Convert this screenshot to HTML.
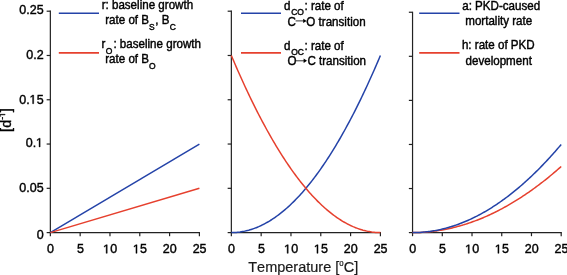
<!DOCTYPE html><html><head><meta charset="utf-8"><style>html,body{margin:0;padding:0;background:#fff;overflow:hidden;}svg{display:block;will-change:transform;}text{font-family:"Liberation Sans",sans-serif;font-kerning:none;fill:#000;stroke:#000;stroke-width:0.4px;}</style></head><body>
<svg width="567" height="275" viewBox="0 0 567 275">
<path d="M50.35 11.20 V232.60 H199.40" fill="none" stroke="#222" stroke-width="1.2" stroke-linecap="square"/>
<line x1="46.65" y1="232.60" x2="50.35" y2="232.60" stroke="#222" stroke-width="1.2"/>
<line x1="46.65" y1="188.32" x2="50.35" y2="188.32" stroke="#222" stroke-width="1.2"/>
<line x1="46.65" y1="144.04" x2="50.35" y2="144.04" stroke="#222" stroke-width="1.2"/>
<line x1="46.65" y1="99.76" x2="50.35" y2="99.76" stroke="#222" stroke-width="1.2"/>
<line x1="46.65" y1="55.48" x2="50.35" y2="55.48" stroke="#222" stroke-width="1.2"/>
<line x1="46.65" y1="11.20" x2="50.35" y2="11.20" stroke="#222" stroke-width="1.2"/>
<line x1="50.35" y1="232.60" x2="50.35" y2="236.20" stroke="#222" stroke-width="1.2"/>
<text x="47.07" y="253.30" font-size="12.5">0</text>
<line x1="80.16" y1="232.60" x2="80.16" y2="236.20" stroke="#222" stroke-width="1.2"/>
<text x="76.88" y="253.30" font-size="12.5">5</text>
<line x1="109.97" y1="232.60" x2="109.97" y2="236.20" stroke="#222" stroke-width="1.2"/>
<path transform="translate(103.22 253.30) scale(0.00610 -0.00610)" d="M475 0L475 1237L157 1010L157 1180L490 1409L656 1409L656 0Z" fill="#000" stroke="#000" stroke-width="65.5"/><text x="110.17" y="253.30" font-size="12.5">0</text>
<line x1="139.78" y1="232.60" x2="139.78" y2="236.20" stroke="#222" stroke-width="1.2"/>
<path transform="translate(133.03 253.30) scale(0.00610 -0.00610)" d="M475 0L475 1237L157 1010L157 1180L490 1409L656 1409L656 0Z" fill="#000" stroke="#000" stroke-width="65.5"/><text x="139.98" y="253.30" font-size="12.5">5</text>
<line x1="169.59" y1="232.60" x2="169.59" y2="236.20" stroke="#222" stroke-width="1.2"/>
<text x="162.84" y="253.30" font-size="12.5">20</text>
<line x1="199.40" y1="232.60" x2="199.40" y2="236.20" stroke="#222" stroke-width="1.2"/>
<text x="192.65" y="253.30" font-size="12.5">25</text>
<path d="M231.35 11.20 V232.60 H380.40" fill="none" stroke="#222" stroke-width="1.2" stroke-linecap="square"/>
<line x1="227.65" y1="232.60" x2="231.35" y2="232.60" stroke="#222" stroke-width="1.2"/>
<line x1="227.65" y1="188.32" x2="231.35" y2="188.32" stroke="#222" stroke-width="1.2"/>
<line x1="227.65" y1="144.04" x2="231.35" y2="144.04" stroke="#222" stroke-width="1.2"/>
<line x1="227.65" y1="99.76" x2="231.35" y2="99.76" stroke="#222" stroke-width="1.2"/>
<line x1="227.65" y1="55.48" x2="231.35" y2="55.48" stroke="#222" stroke-width="1.2"/>
<line x1="227.65" y1="11.20" x2="231.35" y2="11.20" stroke="#222" stroke-width="1.2"/>
<line x1="231.35" y1="232.60" x2="231.35" y2="236.20" stroke="#222" stroke-width="1.2"/>
<text x="228.07" y="253.30" font-size="12.5">0</text>
<line x1="261.16" y1="232.60" x2="261.16" y2="236.20" stroke="#222" stroke-width="1.2"/>
<text x="257.88" y="253.30" font-size="12.5">5</text>
<line x1="290.97" y1="232.60" x2="290.97" y2="236.20" stroke="#222" stroke-width="1.2"/>
<path transform="translate(284.22 253.30) scale(0.00610 -0.00610)" d="M475 0L475 1237L157 1010L157 1180L490 1409L656 1409L656 0Z" fill="#000" stroke="#000" stroke-width="65.5"/><text x="291.17" y="253.30" font-size="12.5">0</text>
<line x1="320.78" y1="232.60" x2="320.78" y2="236.20" stroke="#222" stroke-width="1.2"/>
<path transform="translate(314.03 253.30) scale(0.00610 -0.00610)" d="M475 0L475 1237L157 1010L157 1180L490 1409L656 1409L656 0Z" fill="#000" stroke="#000" stroke-width="65.5"/><text x="320.98" y="253.30" font-size="12.5">5</text>
<line x1="350.59" y1="232.60" x2="350.59" y2="236.20" stroke="#222" stroke-width="1.2"/>
<text x="343.84" y="253.30" font-size="12.5">20</text>
<line x1="380.40" y1="232.60" x2="380.40" y2="236.20" stroke="#222" stroke-width="1.2"/>
<text x="373.65" y="253.30" font-size="12.5">25</text>
<path d="M412.55 12.25 V232.60 H561.20" fill="none" stroke="#222" stroke-width="1.2" stroke-linecap="square"/>
<line x1="408.85" y1="232.60" x2="412.55" y2="232.60" stroke="#222" stroke-width="1.2"/>
<line x1="408.85" y1="188.53" x2="412.55" y2="188.53" stroke="#222" stroke-width="1.2"/>
<line x1="408.85" y1="144.46" x2="412.55" y2="144.46" stroke="#222" stroke-width="1.2"/>
<line x1="408.85" y1="100.39" x2="412.55" y2="100.39" stroke="#222" stroke-width="1.2"/>
<line x1="408.85" y1="56.32" x2="412.55" y2="56.32" stroke="#222" stroke-width="1.2"/>
<line x1="408.85" y1="12.25" x2="412.55" y2="12.25" stroke="#222" stroke-width="1.2"/>
<line x1="412.55" y1="232.60" x2="412.55" y2="236.20" stroke="#222" stroke-width="1.2"/>
<text x="409.27" y="253.30" font-size="12.5">0</text>
<line x1="442.28" y1="232.60" x2="442.28" y2="236.20" stroke="#222" stroke-width="1.2"/>
<text x="439.00" y="253.30" font-size="12.5">5</text>
<line x1="472.01" y1="232.60" x2="472.01" y2="236.20" stroke="#222" stroke-width="1.2"/>
<path transform="translate(465.26 253.30) scale(0.00610 -0.00610)" d="M475 0L475 1237L157 1010L157 1180L490 1409L656 1409L656 0Z" fill="#000" stroke="#000" stroke-width="65.5"/><text x="472.21" y="253.30" font-size="12.5">0</text>
<line x1="501.74" y1="232.60" x2="501.74" y2="236.20" stroke="#222" stroke-width="1.2"/>
<path transform="translate(494.99 253.30) scale(0.00610 -0.00610)" d="M475 0L475 1237L157 1010L157 1180L490 1409L656 1409L656 0Z" fill="#000" stroke="#000" stroke-width="65.5"/><text x="501.94" y="253.30" font-size="12.5">5</text>
<line x1="531.47" y1="232.60" x2="531.47" y2="236.20" stroke="#222" stroke-width="1.2"/>
<text x="524.72" y="253.30" font-size="12.5">20</text>
<line x1="561.20" y1="232.60" x2="561.20" y2="236.20" stroke="#222" stroke-width="1.2"/>
<text x="554.45" y="253.30" font-size="12.5">25</text>
<text x="36.65" y="238.80" font-size="12.5">0</text>
<text x="19.27" y="192.00" font-size="12.5">0.05</text>
<text x="25.72" y="146.90" font-size="12.5">0.</text><path transform="translate(36.15 146.90) scale(0.00610 -0.00610)" d="M475 0L475 1237L157 1010L157 1180L490 1409L656 1409L656 0Z" fill="#000" stroke="#000" stroke-width="65.5"/>
<text x="19.27" y="103.70" font-size="12.5">0.</text><path transform="translate(29.70 103.70) scale(0.00610 -0.00610)" d="M475 0L475 1237L157 1010L157 1180L490 1409L656 1409L656 0Z" fill="#000" stroke="#000" stroke-width="65.5"/><text x="36.65" y="103.70" font-size="12.5">5</text>
<text x="26.22" y="58.90" font-size="12.5">0.2</text>
<text x="19.27" y="14.30" font-size="12.5">0.25</text>
<g transform="translate(10.6 131.9) rotate(-90)"><text x="0" y="0" font-size="14.5">[d</text><text x="12.09" y="-5.5" font-size="8.5">-</text><path transform="translate(14.92 -5.5) scale(0.00415 -0.00415)" d="M475 0L475 1237L157 1010L157 1180L490 1409L656 1409L656 0Z" fill="#000" stroke="#000" stroke-width="96.4"/><text x="19.65" y="0" font-size="14.5">]</text></g>
<text transform="translate(248.27 272.4) scale(1 1.07)" font-size="14.5" style="fill:#1a1a1a;stroke:#1a1a1a;stroke-width:0.2px">Temperature [<tspan font-size="7.8" dy="-6.1">o</tspan><tspan dy="6.1" dx="0.1">C]</tspan></text>
<polyline points="50.35,232.60 199.40,144.04" fill="none" stroke="#2443a8" stroke-width="1.5" stroke-linejoin="round"/>
<polyline points="50.35,232.60 199.40,188.32" fill="none" stroke="#e6402e" stroke-width="1.5" stroke-linejoin="round"/>
<polyline points="231.35,232.60 232.59,232.59 233.83,232.55 235.08,232.49 236.32,232.40 237.56,232.29 238.80,232.16 240.04,232.00 241.29,231.81 242.53,231.60 243.77,231.37 245.01,231.11 246.25,230.83 247.50,230.52 248.74,230.19 249.98,229.83 251.22,229.45 252.47,229.05 253.71,228.61 254.95,228.16 256.19,227.68 257.43,227.18 258.68,226.65 259.92,226.09 261.16,225.52 262.40,224.91 263.64,224.29 264.89,223.63 266.13,222.96 267.37,222.26 268.61,221.53 269.85,220.78 271.10,220.00 272.34,219.21 273.58,218.38 274.82,217.53 276.06,216.66 277.31,215.76 278.55,214.84 279.79,213.89 281.03,212.92 282.28,211.92 283.52,210.90 284.76,209.86 286.00,208.79 287.24,207.69 288.49,206.57 289.73,205.43 290.97,204.26 292.21,203.07 293.45,201.85 294.70,200.61 295.94,199.34 297.18,198.05 298.42,196.73 299.66,195.39 300.91,194.03 302.15,192.64 303.39,191.22 304.63,189.78 305.88,188.32 307.12,186.83 308.36,185.32 309.60,183.78 310.84,182.22 312.09,180.63 313.33,179.02 314.57,177.39 315.81,175.72 317.05,174.04 318.30,172.33 319.54,170.60 320.78,168.84 322.02,167.05 323.26,165.25 324.51,163.41 325.75,161.56 326.99,159.67 328.23,157.77 329.47,155.84 330.72,153.88 331.96,151.90 333.20,149.89 334.44,147.87 335.68,145.81 336.93,143.73 338.17,141.63 339.41,139.50 340.65,137.35 341.90,135.17 343.14,132.97 344.38,130.74 345.62,128.49 346.86,126.22 348.11,123.92 349.35,121.59 350.59,119.24 351.83,116.87 353.07,114.47 354.32,112.05 355.56,109.60 356.80,107.13 358.04,104.63 359.28,102.11 360.53,99.56 361.77,96.99 363.01,94.40 364.25,91.78 365.50,89.13 366.74,86.46 367.98,83.77 369.22,81.05 370.46,78.31 371.71,75.54 372.95,72.75 374.19,69.93 375.43,67.09 376.67,64.23 377.92,61.33 379.16,58.42 380.40,55.48" fill="none" stroke="#2443a8" stroke-width="1.5" stroke-linejoin="round"/>
<polyline points="231.35,55.48 232.59,58.42 233.83,61.33 235.08,64.23 236.32,67.09 237.56,69.93 238.80,72.75 240.04,75.54 241.29,78.31 242.53,81.05 243.77,83.77 245.01,86.46 246.25,89.13 247.50,91.78 248.74,94.40 249.98,96.99 251.22,99.56 252.47,102.11 253.71,104.63 254.95,107.13 256.19,109.60 257.43,112.05 258.68,114.47 259.92,116.87 261.16,119.24 262.40,121.59 263.64,123.92 264.89,126.22 266.13,128.49 267.37,130.74 268.61,132.97 269.85,135.17 271.10,137.35 272.34,139.50 273.58,141.63 274.82,143.73 276.06,145.81 277.31,147.87 278.55,149.89 279.79,151.90 281.03,153.88 282.28,155.84 283.52,157.77 284.76,159.67 286.00,161.56 287.24,163.41 288.49,165.25 289.73,167.05 290.97,168.84 292.21,170.60 293.45,172.33 294.70,174.04 295.94,175.72 297.18,177.39 298.42,179.02 299.66,180.63 300.91,182.22 302.15,183.78 303.39,185.32 304.63,186.83 305.88,188.32 307.12,189.78 308.36,191.22 309.60,192.64 310.84,194.03 312.09,195.39 313.33,196.73 314.57,198.05 315.81,199.34 317.05,200.61 318.30,201.85 319.54,203.07 320.78,204.26 322.02,205.43 323.26,206.57 324.51,207.69 325.75,208.79 326.99,209.86 328.23,210.90 329.47,211.92 330.72,212.92 331.96,213.89 333.20,214.84 334.44,215.76 335.68,216.66 336.93,217.53 338.17,218.38 339.41,219.21 340.65,220.00 341.90,220.78 343.14,221.53 344.38,222.26 345.62,222.96 346.86,223.63 348.11,224.29 349.35,224.91 350.59,225.52 351.83,226.09 353.07,226.65 354.32,227.18 355.56,227.68 356.80,228.16 358.04,228.61 359.28,229.05 360.53,229.45 361.77,229.83 363.01,230.19 364.25,230.52 365.50,230.83 366.74,231.11 367.98,231.37 369.22,231.60 370.46,231.81 371.71,232.00 372.95,232.16 374.19,232.29 375.43,232.40 376.67,232.49 377.92,232.55 379.16,232.59 380.40,232.60" fill="none" stroke="#e6402e" stroke-width="1.5" stroke-linejoin="round"/>
<polyline points="412.55,232.60 413.79,232.60 415.03,232.58 416.27,232.56 417.50,232.53 418.74,232.49 419.98,232.43 421.22,232.38 422.46,232.31 423.70,232.23 424.94,232.14 426.18,232.04 427.42,231.94 428.65,231.82 429.89,231.70 431.13,231.57 432.37,231.42 433.61,231.27 434.85,231.11 436.09,230.94 437.33,230.76 438.56,230.58 439.80,230.38 441.04,230.17 442.28,229.96 443.52,229.73 444.76,229.50 446.00,229.25 447.24,229.00 448.47,228.74 449.71,228.47 450.95,228.19 452.19,227.90 453.43,227.60 454.67,227.29 455.91,226.98 457.15,226.65 458.38,226.32 459.62,225.97 460.86,225.62 462.10,225.25 463.34,224.88 464.58,224.50 465.82,224.11 467.06,223.71 468.29,223.30 469.53,222.89 470.77,222.46 472.01,222.02 473.25,221.58 474.49,221.12 475.73,220.66 476.97,220.19 478.20,219.70 479.44,219.21 480.68,218.71 481.92,218.20 483.16,217.69 484.40,217.16 485.64,216.62 486.88,216.07 488.11,215.52 489.35,214.95 490.59,214.38 491.83,213.80 493.07,213.20 494.31,212.60 495.55,211.99 496.79,211.37 498.02,210.74 499.26,210.11 500.50,209.46 501.74,208.80 502.98,208.14 504.22,207.46 505.46,206.78 506.70,206.08 507.93,205.38 509.17,204.67 510.41,203.95 511.65,203.22 512.89,202.48 514.13,201.73 515.37,200.98 516.61,200.21 517.84,199.43 519.08,198.65 520.32,197.85 521.56,197.05 522.80,196.24 524.04,195.42 525.28,194.59 526.52,193.74 527.75,192.90 528.99,192.04 530.23,191.17 531.47,190.29 532.71,189.41 533.95,188.51 535.19,187.61 536.43,186.69 537.66,185.77 538.90,184.84 540.14,183.90 541.38,182.95 542.62,181.99 543.86,181.02 545.10,180.04 546.34,179.05 547.57,178.06 548.81,177.05 550.05,176.04 551.29,175.02 552.53,173.98 553.77,172.94 555.01,171.89 556.25,170.83 557.48,169.76 558.72,168.68 559.96,167.59 561.20,166.50" fill="none" stroke="#e6402e" stroke-width="1.5" stroke-linejoin="round"/>
<polyline points="412.55,232.60 413.79,232.59 415.03,232.58 416.27,232.54 417.50,232.50 418.74,232.45 419.98,232.38 421.22,232.30 422.46,232.21 423.70,232.10 424.94,231.99 426.18,231.86 427.42,231.72 428.65,231.57 429.89,231.40 431.13,231.22 432.37,231.03 433.61,230.83 434.85,230.62 436.09,230.39 437.33,230.15 438.56,229.90 439.80,229.64 441.04,229.36 442.28,229.07 443.52,228.77 444.76,228.46 446.00,228.14 447.24,227.80 448.47,227.45 449.71,227.09 450.95,226.72 452.19,226.33 453.43,225.93 454.67,225.52 455.91,225.10 457.15,224.67 458.38,224.22 459.62,223.76 460.86,223.29 462.10,222.81 463.34,222.31 464.58,221.80 465.82,221.28 467.06,220.75 468.29,220.21 469.53,219.65 470.77,219.08 472.01,218.50 473.25,217.90 474.49,217.30 475.73,216.68 476.97,216.05 478.20,215.41 479.44,214.75 480.68,214.08 481.92,213.41 483.16,212.71 484.40,212.01 485.64,211.29 486.88,210.56 488.11,209.82 489.35,209.07 490.59,208.31 491.83,207.53 493.07,206.74 494.31,205.94 495.55,205.12 496.79,204.30 498.02,203.46 499.26,202.61 500.50,201.74 501.74,200.87 502.98,199.98 504.22,199.08 505.46,198.17 506.70,197.25 507.93,196.31 509.17,195.36 510.41,194.40 511.65,193.43 512.89,192.44 514.13,191.44 515.37,190.43 516.61,189.41 517.84,188.38 519.08,187.33 520.32,186.27 521.56,185.20 522.80,184.12 524.04,183.02 525.28,181.91 526.52,180.79 527.75,179.66 528.99,178.52 530.23,177.36 531.47,176.19 532.71,175.01 533.95,173.82 535.19,172.61 536.43,171.39 537.66,170.16 538.90,168.92 540.14,167.66 541.38,166.40 542.62,165.12 543.86,163.83 545.10,162.52 546.34,161.21 547.57,159.88 548.81,158.54 550.05,157.19 551.29,155.82 552.53,154.44 553.77,153.05 555.01,151.65 556.25,150.24 557.48,148.81 558.72,147.37 559.96,145.92 561.20,144.46" fill="none" stroke="#2443a8" stroke-width="1.5" stroke-linejoin="round"/>
<line x1="58.80" y1="13.25" x2="99.00" y2="13.25" stroke="#2443a8" stroke-width="1.7"/>
<line x1="58.80" y1="52.80" x2="99.00" y2="52.80" stroke="#e6402e" stroke-width="1.7"/>
<text transform="translate(101.63 9.00) scale(1 1.03)" font-size="11.6">r: baseline growth</text>
<text transform="translate(105.23 23.90) scale(1 1.03)" font-size="11.6">rate of B<tspan font-size="8.5" dy="5.5" dx="0">S</tspan><tspan dy="-5.5" dx="0.5">, B<tspan font-size="8.5" dy="5.5" dx="0.4">C</tspan><tspan dy="-5.5" dx="0"></tspan></tspan></text>
<text transform="translate(101.53 47.90) scale(1 1.03)" font-size="11.6">r<tspan font-size="8.5" dy="5.5" dx="0.4">O</tspan><tspan dy="-5.5" dx="1.0">: baseline growth</tspan></text>
<text transform="translate(105.23 62.90) scale(1 1.03)" font-size="11.6">rate of B<tspan font-size="8.5" dy="5.5" dx="0.0">O</tspan><tspan dy="-5.5" dx="0.0"></tspan></text>
<line x1="241.00" y1="13.25" x2="281.00" y2="13.25" stroke="#2443a8" stroke-width="1.7"/>
<line x1="241.00" y1="52.80" x2="281.00" y2="52.80" stroke="#e6402e" stroke-width="1.7"/>
<text transform="translate(283.91 9.80) scale(1 1.03)" font-size="11.6">d<tspan font-size="8.5" dy="5.5" dx="0.8">CO</tspan><tspan dy="-5.5" dx="0.6">: rate of</tspan></text>
<text transform="translate(287.41 25.50) scale(1 1.03)" font-size="11.6">C</text>
<line x1="295.60" y1="20.90" x2="303.60" y2="20.90" stroke="#000" stroke-width="0.8"/>
<path d="M303.20 18.70 L306.60 20.90 L303.20 23.10 Z" fill="#000"/>
<text transform="translate(306.35 25.50) scale(1 1.03)" font-size="11.6">O transition</text>
<text transform="translate(283.91 49.80) scale(1 1.03)" font-size="11.6">d<tspan font-size="8.5" dy="5.5" dx="0.8">OC</tspan><tspan dy="-5.5" dx="0.6">: rate of</tspan></text>
<text transform="translate(287.45 65.40) scale(1 1.03)" font-size="11.6">O</text>
<line x1="296.00" y1="60.80" x2="304.00" y2="60.80" stroke="#000" stroke-width="0.8"/>
<path d="M303.60 58.60 L307.00 60.80 L303.60 63.00 Z" fill="#000"/>
<text transform="translate(307.41 65.40) scale(1 1.03)" font-size="11.6">C transition</text>
<line x1="419.20" y1="13.25" x2="459.50" y2="13.25" stroke="#2443a8" stroke-width="1.7"/>
<line x1="419.20" y1="52.80" x2="459.50" y2="52.80" stroke="#e6402e" stroke-width="1.7"/>
<text transform="translate(462.21 10.00) scale(1 1.03)" font-size="11.6">a: PKD-caused</text>
<text transform="translate(465.23 25.20) scale(1 1.03)" font-size="11.6">mortality rate</text>
<text transform="translate(461.90 49.30) scale(1 1.03)" font-size="11.6">h: rate of PKD</text>
<text transform="translate(465.51 65.00) scale(1 1.03)" font-size="11.6">development</text>
</svg></body></html>
